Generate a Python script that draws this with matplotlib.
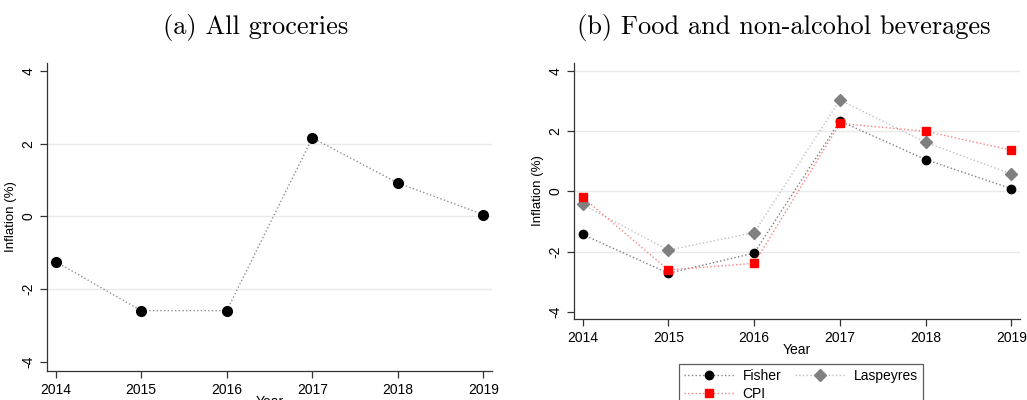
import matplotlib
matplotlib.use("Agg")
import matplotlib.pyplot as plt

years = [2014, 2015, 2016, 2017, 2018, 2019]
all_groceries = [-1.24, -2.59, -2.59, 2.16, 0.92, 0.05]
fisher = [-1.43, -2.72, -2.05, 2.34, 1.06, 0.09]
laspeyres = [-0.43, -1.95, -1.37, 3.04, 1.63, 0.58]
cpi = [-0.19, -2.61, -2.39, 2.26, 2.00, 1.37]
yticks = [-4, -2, 0, 2, 4]

plt.rcParams['font.family'] = ['Liberation Sans', 'DejaVu Sans']
plt.rcParams['font.size'] = 10
plt.rcParams['axes.unicode_minus'] = False

fig = plt.figure(figsize=(10.27, 4.0), dpi=100)

def style_axes(ax, grid_vals, ylim):
    ax.set_xlim(2013.9, 2019.1)
    ax.set_ylim(*ylim)
    ax.set_xticks(years)
    ax.set_yticks(yticks)
    for g in grid_vals:
        ax.axhline(g, color="#eaeaea", lw=1, zorder=0)
    for s in ["top", "right"]:
        ax.spines[s].set_visible(False)
    for s in ["left", "bottom"]:
        ax.spines[s].set_color("#333333")
        ax.spines[s].set_linewidth(0.9)
    ax.tick_params(direction="out", length=5, width=0.9, color="#333333", labelsize=10)
    for lab in ax.get_yticklabels():
        lab.set_rotation(90)
        lab.set_va("center")
    ax.set_ylabel("Inflation (%)", fontsize=9.5, labelpad=3)
    ax.set_xlabel("Year", fontsize=10, labelpad=-1)

# (a) all groceries
ax1 = fig.add_axes([0.0458, 0.0725, 0.4333, 0.77])
ax1.plot(years, all_groceries, color="#909090", lw=1, ls=":", marker="o",
         markersize=7, markerfacecolor="black", markeredgecolor="black")
style_axes(ax1, [-2, 0, 2], (-4.25, 4.22))

# (b) food and non-alcohol beverages
ax2 = fig.add_axes([0.5589, 0.2025, 0.4343, 0.64])
h1, = ax2.plot(years, fisher, color="#808080", lw=1, ls=":", marker="o",
               markersize=6, markerfacecolor="black", markeredgecolor="black", label="Fisher")
h2, = ax2.plot(years, laspeyres, color="#c0c0c0", lw=1, ls=":", marker="D",
               markersize=6, markerfacecolor="#808080", markeredgecolor="#808080", label="Laspeyres")
h3, = ax2.plot(years, cpi, color="#ff8080", lw=1, ls=":", marker="s",
               markersize=6, markerfacecolor="#ff0000", markeredgecolor="#ff0000", label="CPI")
style_axes(ax2, [-2, 0, 2, 4], (-4.24, 4.27))

# column-wise fill: Fisher / CPI in col 1, Laspeyres in col 2
leg = fig.legend(handles=[h1, h3, h2], loc="upper left", bbox_to_anchor=(0.654, 0.108),
                 ncol=2, fontsize=10, frameon=True, fancybox=False, handlelength=3.6,
                 columnspacing=1.0, borderpad=0.4, labelspacing=0.25, handletextpad=0.6)
leg.get_frame().set_edgecolor("#333333")
leg.get_frame().set_linewidth(0.9)

fig.text(0.249, 0.932, "(a) All groceries", family="cmr10", fontsize=19, ha="center", va="center")
fig.text(0.763, 0.932, "(b) Food and non-alcohol beverages", family="cmr10", fontsize=19,
         ha="center", va="center")

fig.savefig("out.png", dpi=100)
